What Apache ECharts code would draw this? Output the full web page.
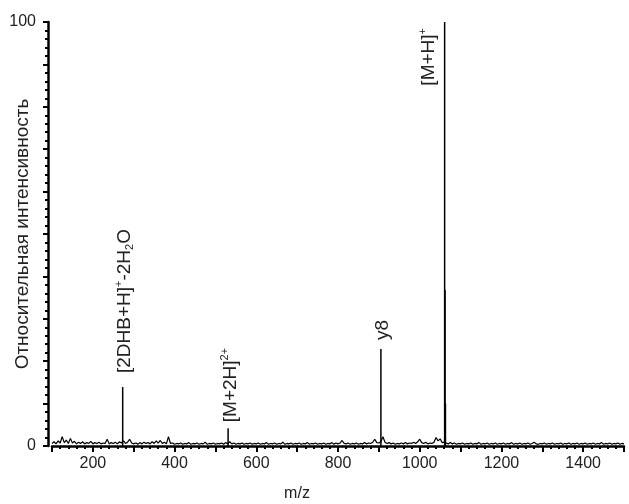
<!DOCTYPE html>
<html><head><meta charset="utf-8">
<script src="https://cdn.jsdelivr.net/npm/echarts@6/dist/echarts.min.js"></script>
<style>html,body{margin:0;padding:0;background:#fff}#c{width:629px;height:504px}</style>
</head><body><div id="c"></div>
<script>
// Peaks (m/z, relative intensity %)
const peakMz = [273, 531, 905, 1061, 1062, 1063];
const peakInt = [13.9, 4.2, 22.9, 100, 36.8, 10];
const peakText = ['[2DHB+H]{sup|+}-2H{sub|2}O', '[M+2H]{sup|2+}', 'y8', '[M+H]{sup|+}', '', ''];
// Baseline noise sampled every 5 m/z from 100 to 1500 (estimated)
const noiseMz = [];
for (let m = 100; m <= 1500; m += 5) noiseMz.push(m);
const noiseInt = [
 0.6,1.0,0.5,1.2,0.7,2.2,0.8,1.4,0.6,1.8,0.7,1.1,0.5,0.9,0.6,1.0,0.5,0.8,0.6,1.1,
 0.5,0.8,0.6,0.9,0.5,0.7,0.6,1.6,0.5,0.8,0.6,0.9,0.5,1.0,0.7,1.2,0.6,0.9,1.6,0.7,
 0.5,0.7,0.4,0.8,0.5,0.9,0.6,0.8,0.5,1.0,0.6,1.2,0.7,1.3,0.6,0.9,0.5,2.2,0.6,0.7,
 0.4,0.6,0.5,0.7,0.4,0.6,0.5,0.8,0.4,0.6,0.5,0.7,0.4,0.6,0.5,0.9,0.4,0.6,0.5,0.7,
 0.4,0.6,0.5,0.7,0.4,0.8,0.5,1.0,0.5,0.7,0.4,0.6,0.5,0.7,0.4,0.6,0.5,0.7,0.4,0.6,
 0.5,0.7,0.4,0.6,0.5,0.8,0.4,0.6,0.5,0.7,0.4,0.6,0.5,0.9,0.4,0.6,0.5,0.7,0.4,0.6,
 0.5,0.7,0.4,0.6,0.5,0.8,0.4,0.6,0.5,0.7,0.4,0.6,0.5,0.7,0.4,0.6,0.5,0.8,0.4,0.7,
 0.5,0.7,1.3,0.6,0.5,0.7,0.4,0.6,0.5,0.7,0.4,0.6,0.5,0.8,0.5,0.7,0.6,0.9,1.6,0.8,
 0.7,1.0,2.2,0.9,0.6,0.8,0.5,0.7,0.4,0.6,0.5,0.7,0.5,0.8,0.5,0.7,0.6,0.9,0.6,1.0,
 1.6,0.8,0.6,0.9,0.5,0.7,0.6,0.9,2.0,1.2,1.7,0.8,0.9,0.7,0.5,0.8,0.5,0.7,0.4,0.6,
 0.5,0.7,0.4,0.6,0.5,0.7,0.4,0.6,0.5,0.8,0.4,0.6,0.5,0.7,0.4,0.6,0.5,0.7,0.4,0.6,
 0.5,0.7,0.4,0.6,0.5,0.8,0.4,0.6,0.5,0.7,0.4,0.6,0.5,0.7,0.4,0.6,0.9,0.5,0.4,0.6,
 0.5,0.7,0.4,0.6,0.5,0.7,0.4,0.6,0.5,0.7,0.4,0.6,0.5,0.7,0.4,0.6,0.5,0.7,0.4,0.6,
 0.5,0.7,0.4,0.6,0.5,0.7,0.4,0.6,0.5,0.8,0.4,0.6,0.5,0.7,0.4,0.6,0.5,0.7,0.4,0.6,
 0.5
];
const yTickLabels = [0, 100];
const xTickStep = 200;

const txt = '#222';
const labelCfg = [
  {position: [3, -14], align: 'left', verticalAlign: 'middle'},
  {position: [3, -6], align: 'left', verticalAlign: 'middle'},
  {position: [3, -9], align: 'left', verticalAlign: 'middle'},
  {position: [-15, 6], align: 'right', verticalAlign: 'middle'},
  null, null
];
const barData = peakMz.map((m, i) => {
  const item = {value: [m, peakInt[i]]};
  if (peakText[i]) {
    item.label = Object.assign({show: true, formatter: peakText[i], rotate: 90}, labelCfg[i]);
  }
  return item;
});

const chart = echarts.init(document.getElementById('c'));
chart.setOption({
  animation: false,
  grid: {left: 52, right: 5, top: 22, bottom: 58, containLabel: false, outerBoundsMode: 'none'},
  xAxis: {
    type: 'value', min: 100, max: 1500, interval: 100,
    name: 'm/z', nameLocation: 'middle', nameGap: 40, nameMoveOverlap: false,
    nameTextStyle: {fontFamily: 'Liberation Sans', fontSize: 16, color: txt, padding: [0, 82, 0, 0]},
    axisLine: {show: true, lineStyle: {color: '#000', width: 2.5}},
    axisTick: {show: true, length: 6, lineStyle: {color: '#000', width: 2}},
    minorTick: {show: true, splitNumber: 5, length: 3, lineStyle: {color: '#000', width: 2}},
    splitLine: {show: false},
    axisLabel: {fontFamily: 'Liberation Sans', fontSize: 16, color: txt, margin: 10,
      formatter: v => (v % xTickStep === 0 ? String(v) : '')}
  },
  yAxis: {
    type: 'value', min: 0, max: 100, interval: 10, offset: 4,
    name: 'Относительная интенсивность', nameLocation: 'middle', nameGap: 16, nameMoveOverlap: false,
    nameTextStyle: {fontFamily: 'Liberation Sans', fontSize: 19, color: txt},
    axisLine: {show: true, lineStyle: {color: '#000', width: 2.5}},
    axisTick: {show: true, length: 5, lineStyle: {color: '#000', width: 2}},
    minorTick: {show: true, splitNumber: 5, length: 3, lineStyle: {color: '#000', width: 2}},
    splitLine: {show: false},
    axisLabel: {fontFamily: 'Liberation Sans', fontSize: 16, color: txt, margin: 12,
      formatter: v => (yTickLabels.indexOf(v) >= 0 ? String(v) : '')}
  },
  series: [
    {
      type: 'line', data: noiseMz.map((m, i) => [m, noiseInt[i]]),
      showSymbol: false, symbol: 'none', lineStyle: {color: '#000', width: 1.2}, z: 3
    },
    {
      type: 'bar', data: barData, barWidth: 1.5, itemStyle: {color: '#000'}, z: 4,
      label: {
        show: false, color: txt, fontFamily: 'Liberation Sans', fontSize: 19, lineHeight: 22,
        rich: {
          sup: {fontSize: 11, lineHeight: 11, verticalAlign: 'top', color: txt, fontFamily: 'Liberation Sans'},
          sub: {fontSize: 11, lineHeight: 11, verticalAlign: 'bottom', color: txt, fontFamily: 'Liberation Sans'}
        }
      }
    }
  ]
});
</script></body></html>
